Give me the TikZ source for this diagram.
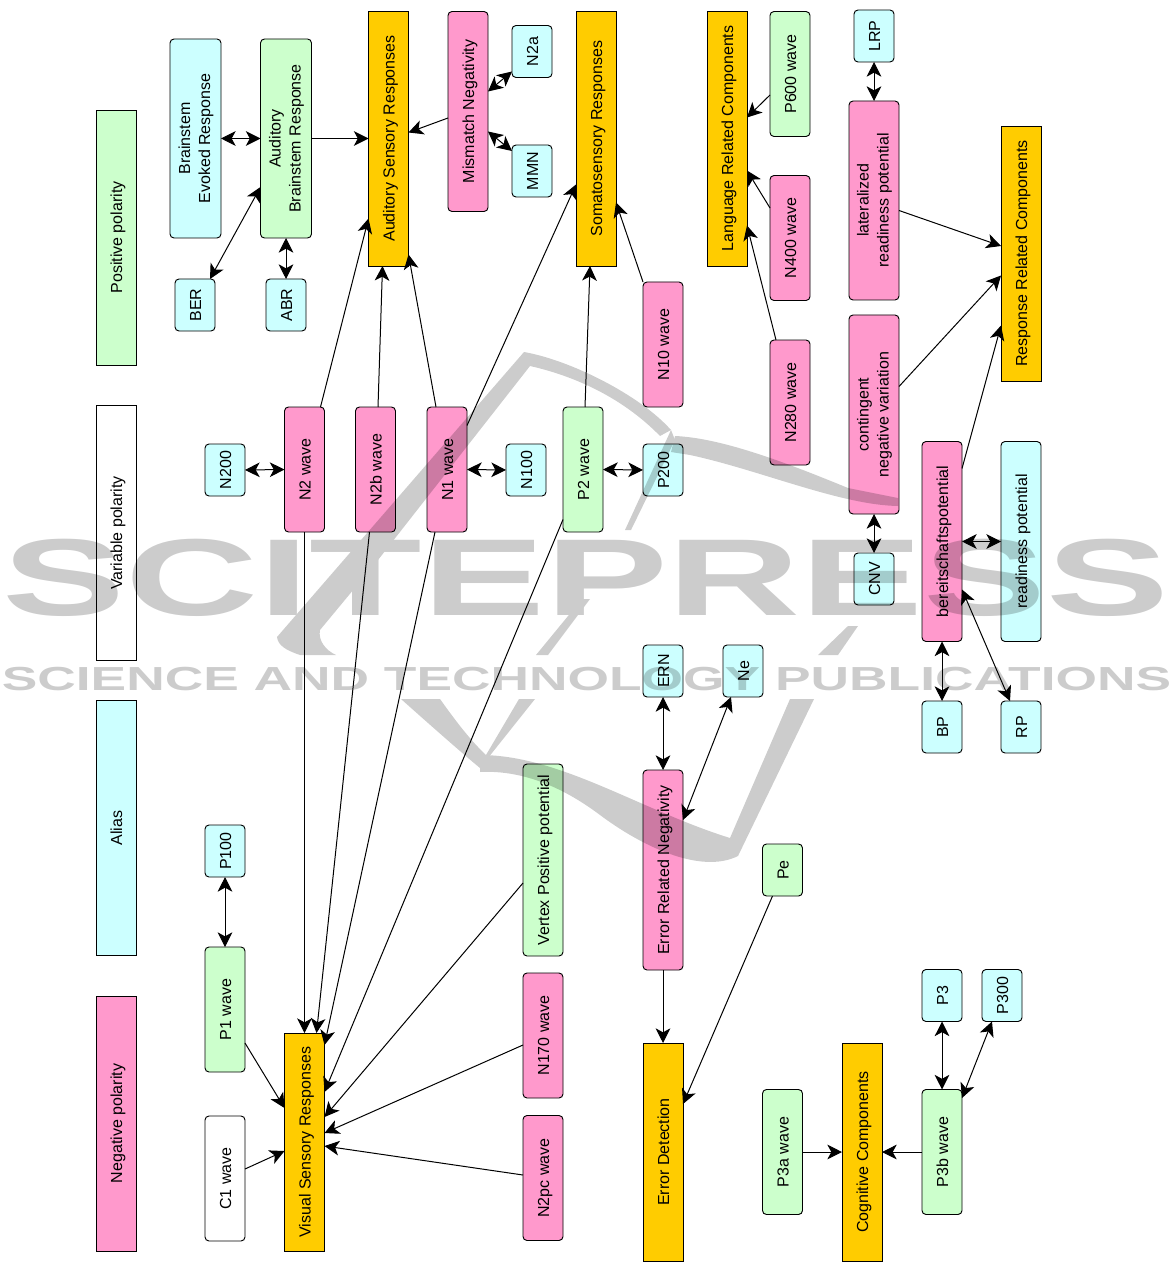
\documentclass[tikz,border=0pt]{standalone}
\usepackage{fontspec}
\setmainfont{Liberation Sans}
\usetikzlibrary{arrows.meta}
\definecolor{neg}{HTML}{FF99CC}
\definecolor{pos}{HTML}{CCFFCC}
\definecolor{alias}{HTML}{CCFFFF}
\definecolor{comp}{HTML}{FFCC00}

\begin{document}
\begin{tikzpicture}[
    x=0.75pt, y=-0.75pt,
    rbox/.style={
        draw,
        rounded corners=3pt,
        rotate=90,
        fill=#1,
        align=center,
        font=\fontsize{12}{15}\selectfont,
        inner sep=0pt,
        outer sep=0pt,
        text height=10.5pt,
        text depth=1.5pt,
        line width=0.7pt
    },
    rbox/.default=white,
    sbox/.style={rbox=#1, rounded corners=0pt},
    sbox/.default=comp,
    wh/.style n args={2}{minimum height=#1*0.75pt, minimum width=#2*0.75pt},
    tag/.style={wh={40}{52}},
    wave/.style={wh={40}{125}},
    wide/.style={wh={40}{200}},
    band/.style={wh={40}{255}},
    low/.style={wh={40}{218}},
    twoln/.style={text height=23.5pt, text depth=1.5pt},
    dx/.style={xshift=#1*0.75pt},
    dy/.style={yshift=-#1*0.75pt},
    arr/.style={-{Stealth[length=11pt,width=11pt,inset=3pt]}, line width=0.75pt},
    darr/.style={{Stealth[length=11pt,width=11pt,inset=3pt]}-{Stealth[length=11pt,width=11pt,inset=3pt]}, line width=0.75pt},
    stamp/.style={black, transform shape, anchor=base}
]
\useasboundingbox (0,0) rectangle (1169,1262);

% === Legend ===
\node[sbox=pos, band] (lpos) at (116,237.5) {Positive polarity};
\node[sbox=white, band] (lvar) at (116,533) {Variable polarity};
\node[sbox=alias, band] (lalias) at (116,828) {Alias};
\node[sbox=neg, band] (lneg) at (116,1123.5) {Negative polarity};

% === Auditory ===
\node[rbox=alias, twoln, wh={51}{199}] (bser) at (195.5,138.5) {Brainstem\\Evoked Response};
\node[rbox=pos, twoln, wh={51}{199}] (abrl) at (286,138.5) {Auditory\\Brainstem Response};
\node[rbox=alias, tag] (ber) at (195,305) {BER};
\node[rbox=alias, tag] (abr) at (286,305) {ABR};
\node[sbox, band] (asr) at (388.5,138.5) {Auditory Sensory Responses};
\node[rbox=neg, wide] (mmnl) at (468,111.5) {Mismatch Negativity};
\node[rbox=alias, tag] (ntwoa) at (532,51.5) {N2a};
\node[rbox=alias, tag] (mmn) at (532,171) {MMN};

% === Somatosensory ===
\node[sbox, band] (ssr) at (596,138.5) {Somatosensory Responses};
\node[rbox=neg, wave] (nten) at (663,344.5) {N10 wave};

% === Middle row ===
\node[rbox=alias, tag] (ntwoh) at (225,470) {N200};
\node[rbox=neg, wave] (ntwo) at (304.5,469.5) {N2 wave};
\node[rbox=neg, wave] (ntwob) at (375.5,469.5) {N2b wave};
\node[rbox=neg, wave] (none) at (447,469.5) {N1 wave};
\node[rbox=alias, tag] (noneh) at (526,470) {N100};
\node[rbox=pos, wave] (ptwo) at (583,469.5) {P2 wave};
\node[rbox=alias, tag] (ptwoh) at (663,470) {P200};

% === Language ===
\node[sbox, band] (lang) at (727,138.5) {Language Related Components};
\node[rbox=pos, wave] (psix) at (790,74) {P600 wave};
\node[rbox=neg, wave] (nfour) at (790,238) {N400 wave};
\node[rbox=neg, wave] (ntwoe) at (790,402.5) {N280 wave};

% === Response ===
\node[rbox=alias, tag] (lrp) at (874,36) {LRP};
\node[rbox=neg, twoln, wh={50}{199}] (lrpl) at (874,200.5) {lateralized\\readiness potential};
\node[rbox=neg, twoln, wh={50}{199}] (cnvl) at (874,414.5) {contingent\\negative variation};
\node[rbox=alias, tag] (cnv) at (874,579) {CNV};
\node[sbox, band] (resp) at (1021,253.5) {Response Related Components};
\node[rbox=neg, wide] (bereit) at (942,541.5) {bereitschaftspotential};
\node[rbox=alias, wide] (readp) at (1021,541.5) {readiness potential};
\node[rbox=alias, tag] (bp) at (942,727) {BP};
\node[rbox=alias, tag] (rp) at (1021,727) {RP};

% === Error ===
\node[rbox=alias, tag] (ern) at (663,671) {ERN};
\node[rbox=alias, tag] (ne) at (743,671) {Ne};
\node[rbox=neg, wide] (ernl) at (663,870) {Error Related Negativity};
\node[rbox=pos, tag] (pe) at (782.5,870) {Pe};
\node[sbox, low] (errd) at (663,1152) {Error Detection};

% === Visual ===
\node[rbox=alias, tag] (pone) at (225,851) {P100};
\node[rbox=pos, wave] (ponew) at (225,1009.5) {P1 wave};
\node[rbox=white, wave] (cone) at (225,1178.5) {C1 wave};
\node[sbox, low] (vsr) at (304.5,1142) {Visual Sensory Responses};
\node[rbox=pos, wh={40}{192}] (vpp) at (543,860) {Vertex Positive potential};
\node[rbox=neg, wave] (nsev) at (543,1035.5) {N170 wave};
\node[rbox=neg, wave] (ntwopc) at (543,1178) {N2pc wave};

% === Cognitive ===
\node[rbox=pos, wave] (pthreea) at (782.5,1152) {P3a wave};
\node[sbox, low] (cog) at (862,1152) {Cognitive Components};
\node[rbox=pos, wave] (pthreeb) at (942,1152) {P3b wave};
\node[rbox=alias, tag] (pthree) at (942,995.5) {P3};
\node[rbox=alias, tag] (pthreeh) at (1002,995.5) {P300};

% === Arrows: auditory ===
\draw[darr] (bser.south) -- (abrl.north);
\draw[arr] (abrl.south) -- (asr.north);
\draw[darr] ([dx=15]ber.east) -- ([dy=48.5]abrl.north);
\draw[darr] (abr.east) -- (abrl.west);
\draw[arr] ([dy=6.5]mmnl.north) -- ([dy=-6]asr.south);
\draw[darr] ([dy=20]ntwoa.north) -- ([dy=-20]mmnl.south);
\draw[darr] ([dy=-20]mmn.north) -- ([dy=20]mmnl.south);
\draw[arr] ([dx=16]ntwo.east) -- ([dy=80]asr.north);
\draw[arr] ([dx=2.5]ntwob.east) -- ([dx=-6]asr.west);
\draw[arr] ([dx=-11]none.east) -- ([dy=116]asr.south);

% === Arrows: somatosensory ===
\draw[arr] ([dy=-44]none.south) -- ([dy=46]ssr.north);
\draw[arr] ([dx=2]ptwo.east) -- ([dx=-6]ssr.west);
\draw[arr] ([dx=-20]nten.east) -- ([dy=64]ssr.south);

% === Arrows: middle row ===
\draw[darr] (ntwoh.south) -- (ntwo.north);
\draw[darr] (none.south) -- (noneh.north);
\draw[darr] (ptwo.south) -- (ptwoh.north);

% === Arrows: language ===
\draw[arr] ([dy=21]psix.north) -- ([dy=-21]lang.south);
\draw[arr] ([dy=-30]nfour.north) -- ([dy=32]lang.south);
\draw[arr] ([dx=-14]ntwoe.east) -- ([dy=87]lang.south);

% === Arrows: response ===
\draw[darr] (lrp.west) -- (lrpl.east);
\draw[arr] ([dy=10]lrpl.south) -- ([dy=-7.5]resp.north);
\draw[arr] ([dy=-28]cnvl.south) -- ([dy=22]resp.north);
\draw[darr] (cnv.east) -- (cnvl.west);
\draw[arr] ([dy=-73]bereit.south) -- ([dy=72]resp.north);
\draw[darr] (bereit.south) -- (readp.north);
\draw[darr] (bereit.west) -- (bp.east);
\draw[darr] ([dx=-11]rp.east) -- ([dy=48]bereit.south);

% === Arrows: error ===
\draw[darr] (ern.west) -- (ernl.east);
\draw[darr] ([dx=-12]ne.west) -- ([dy=-50]ernl.south);
\draw[arr] (ernl.west) -- (errd.east);
\draw[arr] ([dx=-10]pe.west) -- ([dy=-48]errd.south);

% === Arrows: visual ===
\draw[darr] (pone.west) -- (ponew.east);
\draw[arr] (ntwo.west) -- (vsr.east);
\draw[arr] ([dx=-6]ntwob.west) -- ([dx=12]vsr.east);
\draw[arr] ([dx=-12]none.west) -- ([dy=-97]vsr.south);
\draw[arr] ([dy=50]ptwo.north) -- ([dy=-50]vsr.south);
\draw[arr] ([dy=23]vpp.north) -- ([dy=-25]vsr.south);
\draw[arr] ([dy=9.5]nsev.north) -- ([dy=-9]vsr.south);
\draw[arr] ([dy=-3]ntwopc.north) -- ([dy=4]vsr.south);
\draw[arr] ([dy=33.5]ponew.south) -- ([dy=-34]vsr.north);
\draw[arr] ([dy=-9.5]cone.south) -- ([dy=9]vsr.north);

% === Arrows: cognitive ===
\draw[arr] (pthreea.south) -- (cog.north);
\draw[arr] (pthreeb.north) -- (cog.south);
\draw[darr] (pthreeb.east) -- (pthree.west);
\draw[darr] ([dy=-54]pthreeb.south) -- ([dx=-10]pthreeh.west);

% === Watermark ===
\begin{scope}[transparency group, opacity=0.2]
\fill (277,637) -- (524,352) .. controls (570,360) and (640,395) .. (671,430)
    -- (660,436) .. controls (620,395) and (570,375) .. (530,366)
    -- (378,560) -- (320,630) .. controls (318,640) and (325,650) .. (336,655)
    -- (300,655) .. controls (285,650) and (278,645) .. (277,637) -- cycle;
\fill (671,430) -- (625,530) -- (631,530) -- (675,440) -- cycle;
\fill (582,599) -- (536,655) -- (548,655) -- (590,599) -- cycle;
\fill (675,436) .. controls (720,438) and (780,460) .. (848,488) -- (898,498) -- (898,506)
    .. controls (840,505) and (760,470) .. (690,455) -- (671,452) -- cycle;
\fill (848,626) -- (818,655) -- (838,655) -- (858,626) -- cycle;
\fill (401,699) -- (440,699) .. controls (455,720) and (470,740) .. (486,755)
    -- (519,699) -- (535,699) -- (480,768) .. controls (470,760) and (430,725) .. (401,699) -- cycle;
\fill (480,755) .. controls (560,755) and (640,810) .. (730,838) -- (790,699) -- (814,699)
    -- (738,856) .. controls (700,875) and (640,845) .. (600,815) .. controls (560,785) and (520,770) .. (480,772) -- cycle;
\node[stamp, font=\bfseries\fontsize{82}{82}\selectfont, xscale=1.685] (wmain) at (586,615) {SCITEPRESS};
\node[stamp, font=\bfseries\fontsize{25}{25}\selectfont, xscale=1.6] (wsub) at (586.5,690) {SCIENCE AND TECHNOLOGY PUBLICATIONS};
\end{scope}
\end{tikzpicture}
\end{document}
